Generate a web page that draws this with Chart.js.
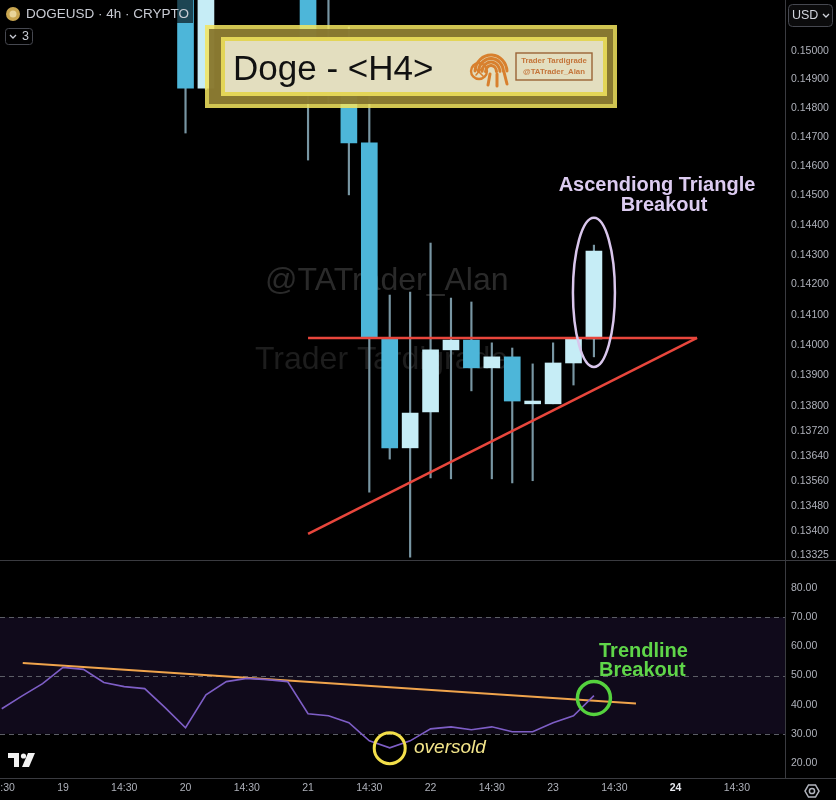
<!DOCTYPE html>
<html>
<head>
<meta charset="utf-8">
<title>DOGEUSD 4h</title>
<script src="https://cdn.jsdelivr.net/npm/chart.js@4.4.1/dist/chart.umd.min.js"></script>
<style>
  html, body { margin: 0; padding: 0; background: #000; }
  #wrap { position: relative; width: 836px; height: 800px; overflow: hidden; background: #000; }
  canvas { position: absolute; left: 0; display: block; }
  #price { top: 0; }
  #rsi { top: 560px; }
</style>
</head>
<body>
<div id="wrap">
  <canvas id="price" width="836" height="560"></canvas>
  <canvas id="rsi" width="836" height="240"></canvas>
</div>
<script>
// 4h bar slots: slot 0 is the first bar of the 19th, six bars per day
const candleSlots = [6, 7, 8, 9, 10, 11, 12, 13, 14, 15, 16, 17, 18, 19, 20, 21, 22, 23, 24, 25, 26];
const opens  = [0.15250, 0.14870, 0.15300, 0.15450, 0.15380, 0.15420, 0.15300, 0.14874, 0.14881, 0.14680, 0.14023, 0.13666, 0.13782, 0.13984, 0.14016, 0.13925, 0.13961, 0.13808, 0.13808, 0.13941, 0.14020];
const highs  = [0.15350, 0.15400, 0.15520, 0.15560, 0.15500, 0.15480, 0.15350, 0.15220, 0.15085, 0.14846, 0.14165, 0.14175, 0.14339, 0.14155, 0.14142, 0.14007, 0.13990, 0.13938, 0.14007, 0.14020, 0.14332];
const lows   = [0.14714, 0.14865, 0.15240, 0.15300, 0.15320, 0.15220, 0.14621, 0.14818, 0.14502, 0.13525, 0.13630, 0.13320, 0.13570, 0.13567, 0.13850, 0.13567, 0.13554, 0.13561, 0.13808, 0.13869, 0.13961];
const closes = [0.14870, 0.15300, 0.15450, 0.15380, 0.15420, 0.15300, 0.14874, 0.14940, 0.14680, 0.14023, 0.13666, 0.13778, 0.13984, 0.14016, 0.13925, 0.13961, 0.13817, 0.13817, 0.13941, 0.14020, 0.14312];

// RSI(14) per bar
const rsiSlots  = [-3, -2, -1, 0, 1, 2, 3, 4, 5, 6, 7, 8, 9, 10, 11, 12, 13, 14, 15, 16, 17, 18, 19, 20, 21, 22, 23, 24, 25, 26];
const rsiValues = [38.6, 43.0, 47.2, 52.8, 52.1, 47.6, 46.2, 45.5, 39.0, 32.1, 43.4, 47.9, 49.0, 48.6, 47.9, 36.9, 36.2, 33.8, 27.6, 25.2, 27.6, 31.7, 32.4, 31.4, 32.4, 30.7, 30.7, 33.8, 36.2, 43.1];

// triangle: flat top and rising floor
const resistanceSlots  = [12, 31.05];
const resistancePrices = [0.14023, 0.14023];
const supportSlots     = [12, 31.05];
const supportPrices    = [0.13393, 0.14023];

// falling trendline on the RSI
const rsiTrendSlots  = [-1.97, 28.06];
const rsiTrendValues = [54.3, 40.4];

// axis ticks
const priceTicks = [0.15, 0.149, 0.148, 0.147, 0.146, 0.145, 0.144, 0.143, 0.142, 0.141, 0.14, 0.139, 0.138, 0.1372, 0.1364, 0.1356, 0.1348, 0.134, 0.13325];
const rsiTicks = [20, 30, 40, 50, 60, 70, 80];
const timeTickSlots  = [-3, 0, 3, 6, 9, 12, 15, 18, 21, 24, 27, 30, 33];
const timeTickLabels = ['14:30', '19', '14:30', '20', '14:30', '21', '14:30', '22', '14:30', '23', '14:30', '24', '14:30'];

// marked spots
const breakoutSlot = 26, breakoutTop = 0.14424, breakoutBottom = 0.13928;
const rsiBreakoutSlot = 26, rsiBreakoutValue = 42.3;
const oversoldSlot = 16, oversoldValue = 25.1;

const FONT = "'Liberation Sans', Arial, sans-serif";
const AXIS_TEXT = '#aeb1ba';
const LINE_GREY = '#3a3b40';
const BULL = '#c6edf6';
const BEAR = '#4db6d9';
const WICK = '#7896a3';

const X_MIN = -3.0852, X_MAX = 35.357;

// keep the plot flush with the canvas edges (no room reserved for overhanging labels)
function noPad(s) {
  s.paddingLeft = 0; s.paddingRight = 0; s.paddingTop = 0; s.paddingBottom = 0;
}

function roundRect(ctx, x, y, w, h, r) {
  ctx.beginPath();
  ctx.moveTo(x + r, y);
  ctx.lineTo(x + w - r, y);
  ctx.arcTo(x + w, y, x + w, y + r, r);
  ctx.lineTo(x + w, y + h - r);
  ctx.arcTo(x + w, y + h, x + w - r, y + h, r);
  ctx.lineTo(x + r, y + h);
  ctx.arcTo(x, y + h, x, y + h - r, r);
  ctx.lineTo(x, y + r);
  ctx.arcTo(x, y, x + r, y, r);
  ctx.closePath();
}

function chevron(ctx, cx, cy, color) {
  ctx.save();
  ctx.strokeStyle = color;
  ctx.lineWidth = 1.3;
  ctx.beginPath();
  ctx.moveTo(cx - 3, cy - 1.5);
  ctx.lineTo(cx, cy + 1.5);
  ctx.lineTo(cx + 3, cy - 1.5);
  ctx.stroke();
  ctx.restore();
}

function drawTardigrade(ctx) {
  ctx.save();
  const orange = '#d8802e';
  ctx.strokeStyle = orange;
  ctx.fillStyle = orange;
  ctx.lineCap = 'round';
  // striped back
  ctx.lineWidth = 3;
  for (let i = 0; i < 4; i++) {
    ctx.beginPath();
    ctx.ellipse(491, 72, 16 - i * 3.5, 17 - i * 3.5, 0, Math.PI * 1.02, Math.PI * 1.98);
    ctx.stroke();
  }
  // head
  ctx.lineWidth = 2.4;
  ctx.beginPath();
  ctx.arc(479, 71, 8, 0, Math.PI * 2);
  ctx.stroke();
  ctx.lineWidth = 1.6;
  ctx.beginPath();
  ctx.moveTo(474, 67); ctx.lineTo(483, 76);
  ctx.moveTo(476, 75); ctx.lineTo(482, 68);
  ctx.stroke();
  // legs
  ctx.lineWidth = 3;
  [[490, 74, 488, 85], [497, 74, 497, 86], [504, 72, 507, 84]].forEach(l => {
    ctx.beginPath(); ctx.moveTo(l[0], l[1]); ctx.lineTo(l[2], l[3]); ctx.stroke();
  });
  ctx.restore();
}

const pricePlugin = {
  id: 'pricePane',
  beforeDatasetsDraw(chart) {
    const ctx = chart.ctx;
    ctx.save();
    ctx.textBaseline = 'middle';
    ctx.textAlign = 'left';
    ctx.font = '32px ' + FONT;
    ctx.fillStyle = '#2a2a2a';
    ctx.fillText('@TATrader_Alan', 265, 281);
    ctx.fillStyle = '#1d1d1d';
    ctx.fillText('Trader Tardigrade', 255, 360);
    ctx.restore();
  },
  afterDatasetsDraw(chart) {
    const ctx = chart.ctx;
    const xs = chart.scales.x, ys = chart.scales.y;
    // breakout ellipse around the last bar
    const cx = xs.getPixelForValue(breakoutSlot);
    const top = ys.getPixelForValue(breakoutTop);
    const bot = ys.getPixelForValue(breakoutBottom);
    ctx.save();
    ctx.strokeStyle = '#d9c6ec';
    ctx.lineWidth = 2.5;
    ctx.beginPath();
    ctx.ellipse(cx, (top + bot) / 2, 21, (bot - top) / 2, 0, 0, Math.PI * 2);
    ctx.stroke();
    ctx.fillStyle = '#dccbf0';
    ctx.font = 'bold 20px ' + FONT;
    ctx.textAlign = 'center';
    ctx.textBaseline = 'middle';
    ctx.fillText('Ascendiong Triangle', 657, 185);
    ctx.fillText('Breakout', 664, 205);
    ctx.restore();
  },
  afterDraw(chart) {
    const ctx = chart.ctx;
    ctx.save();
    // separator between plot and price scale
    ctx.strokeStyle = LINE_GREY;
    ctx.lineWidth = 1;
    ctx.beginPath();
    ctx.moveTo(785.5, 0); ctx.lineTo(785.5, 560);
    ctx.stroke();

    // symbol header
    ctx.fillStyle = 'rgba(0,0,0,0.62)';
    ctx.fillRect(0, 0, 193, 23);
    ctx.fillStyle = '#c9a650';
    ctx.beginPath(); ctx.arc(13, 14, 7, 0, Math.PI * 2); ctx.fill();
    ctx.fillStyle = '#e9d59a';
    ctx.beginPath(); ctx.arc(13, 14, 3.5, 0, Math.PI * 2); ctx.fill();
    ctx.fillStyle = '#c8cbd3';
    ctx.font = '13.5px ' + FONT;
    ctx.textAlign = 'left';
    ctx.textBaseline = 'middle';
    ctx.fillText('DOGEUSD \u00b7 4h \u00b7 CRYPTO', 26, 14.5);

    // collapsed indicators badge
    ctx.strokeStyle = '#464850';
    ctx.lineWidth = 1;
    roundRect(ctx, 5.5, 28.5, 27, 16, 3);
    ctx.stroke();
    chevron(ctx, 13, 36.5, '#c8cbd3');
    ctx.fillStyle = '#c8cbd3';
    ctx.font = '12.5px ' + FONT;
    ctx.fillText('3', 22, 37);

    // currency button
    ctx.fillStyle = '#0b0b0c';
    roundRect(ctx, 788.5, 4.5, 44, 22, 4);
    ctx.fill();
    ctx.strokeStyle = '#464850';
    ctx.stroke();
    ctx.fillStyle = '#d1d4dc';
    ctx.font = '12.5px ' + FONT;
    ctx.fillText('USD', 792, 16);
    chevron(ctx, 826, 15.5, '#d1d4dc');

    // title banner
    ctx.globalAlpha = 0.86;
    ctx.fillStyle = '#f2e45e'; ctx.fillRect(205, 25, 412, 83);
    ctx.fillStyle = '#7b6b2b'; ctx.fillRect(209, 29, 404, 75);
    ctx.fillStyle = '#f2e45e'; ctx.fillRect(221, 37, 386, 59);
    ctx.fillStyle = '#e3dfd0'; ctx.fillRect(225, 41, 378, 51);
    ctx.globalAlpha = 1;
    ctx.fillStyle = '#111';
    ctx.font = '35px ' + FONT;
    ctx.textBaseline = 'alphabetic';
    ctx.fillText('Doge - <H4>', 233, 80);
    drawTardigrade(ctx);
    ctx.strokeStyle = '#9a6436';
    ctx.lineWidth = 1.4;
    ctx.strokeRect(516, 53, 76, 27);
    ctx.fillStyle = '#c4753a';
    ctx.font = 'bold 7.8px ' + FONT;
    ctx.textAlign = 'center';
    ctx.textBaseline = 'middle';
    ctx.fillText('Trader Tardigrade', 554, 61);
    ctx.fillText('@TATrader_Alan', 554, 72);
    ctx.restore();
  }
};

const rsiPlugin = {
  id: 'rsiPane',
  beforeDatasetsDraw(chart) {
    const ctx = chart.ctx;
    const ys = chart.scales.y;
    const area = chart.chartArea;
    const y70 = ys.getPixelForValue(70), y50 = ys.getPixelForValue(50), y30 = ys.getPixelForValue(30);
    ctx.save();
    ctx.fillStyle = '#100a1b';
    ctx.fillRect(area.left, y70, area.right - area.left, y30 - y70);
    ctx.strokeStyle = '#5c5e66';
    ctx.lineWidth = 1;
    ctx.setLineDash([5, 4]);
    [y70, y50, y30].forEach(y => {
      ctx.beginPath();
      ctx.moveTo(area.left, Math.round(y) + 0.5);
      ctx.lineTo(area.right, Math.round(y) + 0.5);
      ctx.stroke();
    });
    ctx.restore();
  },
  afterDatasetsDraw(chart) {
    const ctx = chart.ctx;
    const xs = chart.scales.x, ys = chart.scales.y;
    ctx.save();
    // breakout circle
    ctx.strokeStyle = '#55d23e';
    ctx.lineWidth = 3.5;
    ctx.beginPath();
    ctx.arc(xs.getPixelForValue(rsiBreakoutSlot), ys.getPixelForValue(rsiBreakoutValue), 16.5, 0, Math.PI * 2);
    ctx.stroke();
    ctx.fillStyle = '#5fd549';
    ctx.font = 'bold 20px ' + FONT;
    ctx.textAlign = 'left';
    ctx.textBaseline = 'middle';
    ctx.fillText('Trendline', 599, 91);
    ctx.fillText('Breakout', 599, 110);
    // oversold circle
    ctx.strokeStyle = '#f3df4a';
    ctx.lineWidth = 3;
    ctx.beginPath();
    ctx.arc(xs.getPixelForValue(oversoldSlot), ys.getPixelForValue(oversoldValue), 15.5, 0, Math.PI * 2);
    ctx.stroke();
    ctx.fillStyle = '#f3e58a';
    ctx.font = 'italic 19px ' + FONT;
    ctx.fillText('oversold', 414, 188);
    ctx.restore();
  },
  afterDraw(chart) {
    const ctx = chart.ctx;
    ctx.save();
    ctx.strokeStyle = LINE_GREY;
    ctx.lineWidth = 1;
    ctx.beginPath();
    ctx.moveTo(0, 0.5); ctx.lineTo(836, 0.5);
    ctx.moveTo(0, 218.5); ctx.lineTo(836, 218.5);
    ctx.moveTo(785.5, 0); ctx.lineTo(785.5, 218);
    ctx.stroke();

    // TradingView mark
    ctx.fillStyle = '#f2f2f2';
    ctx.fillRect(8, 193, 11, 5);
    ctx.fillRect(14, 193, 5, 14);
    ctx.beginPath(); ctx.arc(23.5, 196, 2.6, 0, Math.PI * 2); ctx.fill();
    ctx.beginPath();
    ctx.moveTo(28, 193); ctx.lineTo(35, 193); ctx.lineTo(29, 207); ctx.lineTo(22, 207);
    ctx.closePath(); ctx.fill();

    // settings gear
    ctx.strokeStyle = '#b2b5be';
    ctx.lineWidth = 1.5;
    ctx.beginPath();
    for (let i = 0; i < 6; i++) {
      const a = Math.PI / 3 * i;
      const px = 812 + 7 * Math.cos(a), py = 231 + 7 * Math.sin(a);
      if (i === 0) ctx.moveTo(px, py); else ctx.lineTo(px, py);
    }
    ctx.closePath();
    ctx.stroke();
    ctx.beginPath(); ctx.arc(812, 231, 2.6, 0, Math.PI * 2); ctx.stroke();
    ctx.restore();
  }
};

const candleBodies = candleSlots.map((s, i) => ({ x: s, y: [opens[i], closes[i]] }));
const candleWicks  = candleSlots.map((s, i) => ({ x: s, y: [lows[i], highs[i]] }));
const bodyColors   = candleSlots.map((s, i) => closes[i] >= opens[i] ? BULL : BEAR);

new Chart(document.getElementById('price'), {
  type: 'bar',
  data: {
    datasets: [
      {
        type: 'line',
        data: resistanceSlots.map((s, i) => ({ x: s, y: resistancePrices[i] })),
        borderColor: '#e8463c', borderWidth: 2.5, pointRadius: 0, fill: false, tension: 0
      },
      {
        type: 'line',
        data: supportSlots.map((s, i) => ({ x: s, y: supportPrices[i] })),
        borderColor: '#e8463c', borderWidth: 2.5, pointRadius: 0, fill: false, tension: 0
      },
      {
        data: candleBodies, backgroundColor: bodyColors, borderWidth: 0,
        barThickness: 16, grouped: false
      },
      {
        data: candleWicks, backgroundColor: WICK, borderWidth: 0,
        barThickness: 1.5, grouped: false
      }
    ]
  },
  options: {
    responsive: false,
    animation: false,
    devicePixelRatio: 1,
    layout: { padding: 0 },
    plugins: { legend: { display: false }, tooltip: { enabled: false } },
    scales: {
      x: { type: 'linear', min: X_MIN, max: X_MAX, offset: false, display: false },
      y: {
        type: 'logarithmic',
        position: 'right',
        min: 0.13311,
        max: 0.151807,
        grid: { display: false, drawTicks: false },
        border: { display: false },
        afterBuildTicks: s => { s.ticks = priceTicks.map(v => ({ value: v })); },
        afterFit: s => { s.width = 51; noPad(s); },
        ticks: {
          autoSkip: false,
          padding: 6,
          color: AXIS_TEXT,
          font: { family: FONT, size: 10.5 },
          callback: v => Number(v).toFixed(5)
        }
      }
    }
  },
  plugins: [pricePlugin]
});

new Chart(document.getElementById('rsi'), {
  type: 'line',
  data: {
    datasets: [
      {
        data: rsiSlots.map((s, i) => ({ x: s, y: rsiValues[i] })),
        borderColor: '#7e5ec6', borderWidth: 1.6, pointRadius: 0, tension: 0, fill: false
      },
      {
        data: rsiTrendSlots.map((s, i) => ({ x: s, y: rsiTrendValues[i] })),
        borderColor: '#f0a44c', borderWidth: 2, pointRadius: 0, tension: 0, fill: false
      }
    ]
  },
  options: {
    responsive: false,
    animation: false,
    devicePixelRatio: 1,
    layout: { padding: 0 },
    plugins: { legend: { display: false }, tooltip: { enabled: false } },
    scales: {
      x: {
        type: 'linear', min: X_MIN, max: X_MAX, offset: false, position: 'bottom',
        grid: { display: false, drawTicks: false },
        border: { display: false },
        afterBuildTicks: s => { s.ticks = timeTickSlots.map(v => ({ value: v })); },
        afterFit: s => { s.height = 22; noPad(s); },
        ticks: {
          autoSkip: false, maxRotation: 0, padding: 4,
          color: ctx => (ctx.tick && ctx.tick.label === '24') ? '#e6e8ee' : AXIS_TEXT,
          font: ctx => ({ family: FONT, size: 10.5, weight: (ctx.tick && ctx.tick.label === '24') ? 'bold' : 'normal' }),
          callback: v => timeTickLabels[timeTickSlots.indexOf(v)]
        }
      },
      y: {
        type: 'linear', position: 'right', min: 14.86, max: 89.6,
        grid: { display: false, drawTicks: false },
        border: { display: false },
        afterBuildTicks: s => { s.ticks = rsiTicks.map(v => ({ value: v })); },
        afterFit: s => { s.width = 51; noPad(s); },
        ticks: {
          autoSkip: false, padding: 6, color: AXIS_TEXT,
          font: { family: FONT, size: 10.5 },
          callback: v => Number(v).toFixed(2)
        }
      }
    }
  },
  plugins: [rsiPlugin]
});
</script>
</body>
</html>
